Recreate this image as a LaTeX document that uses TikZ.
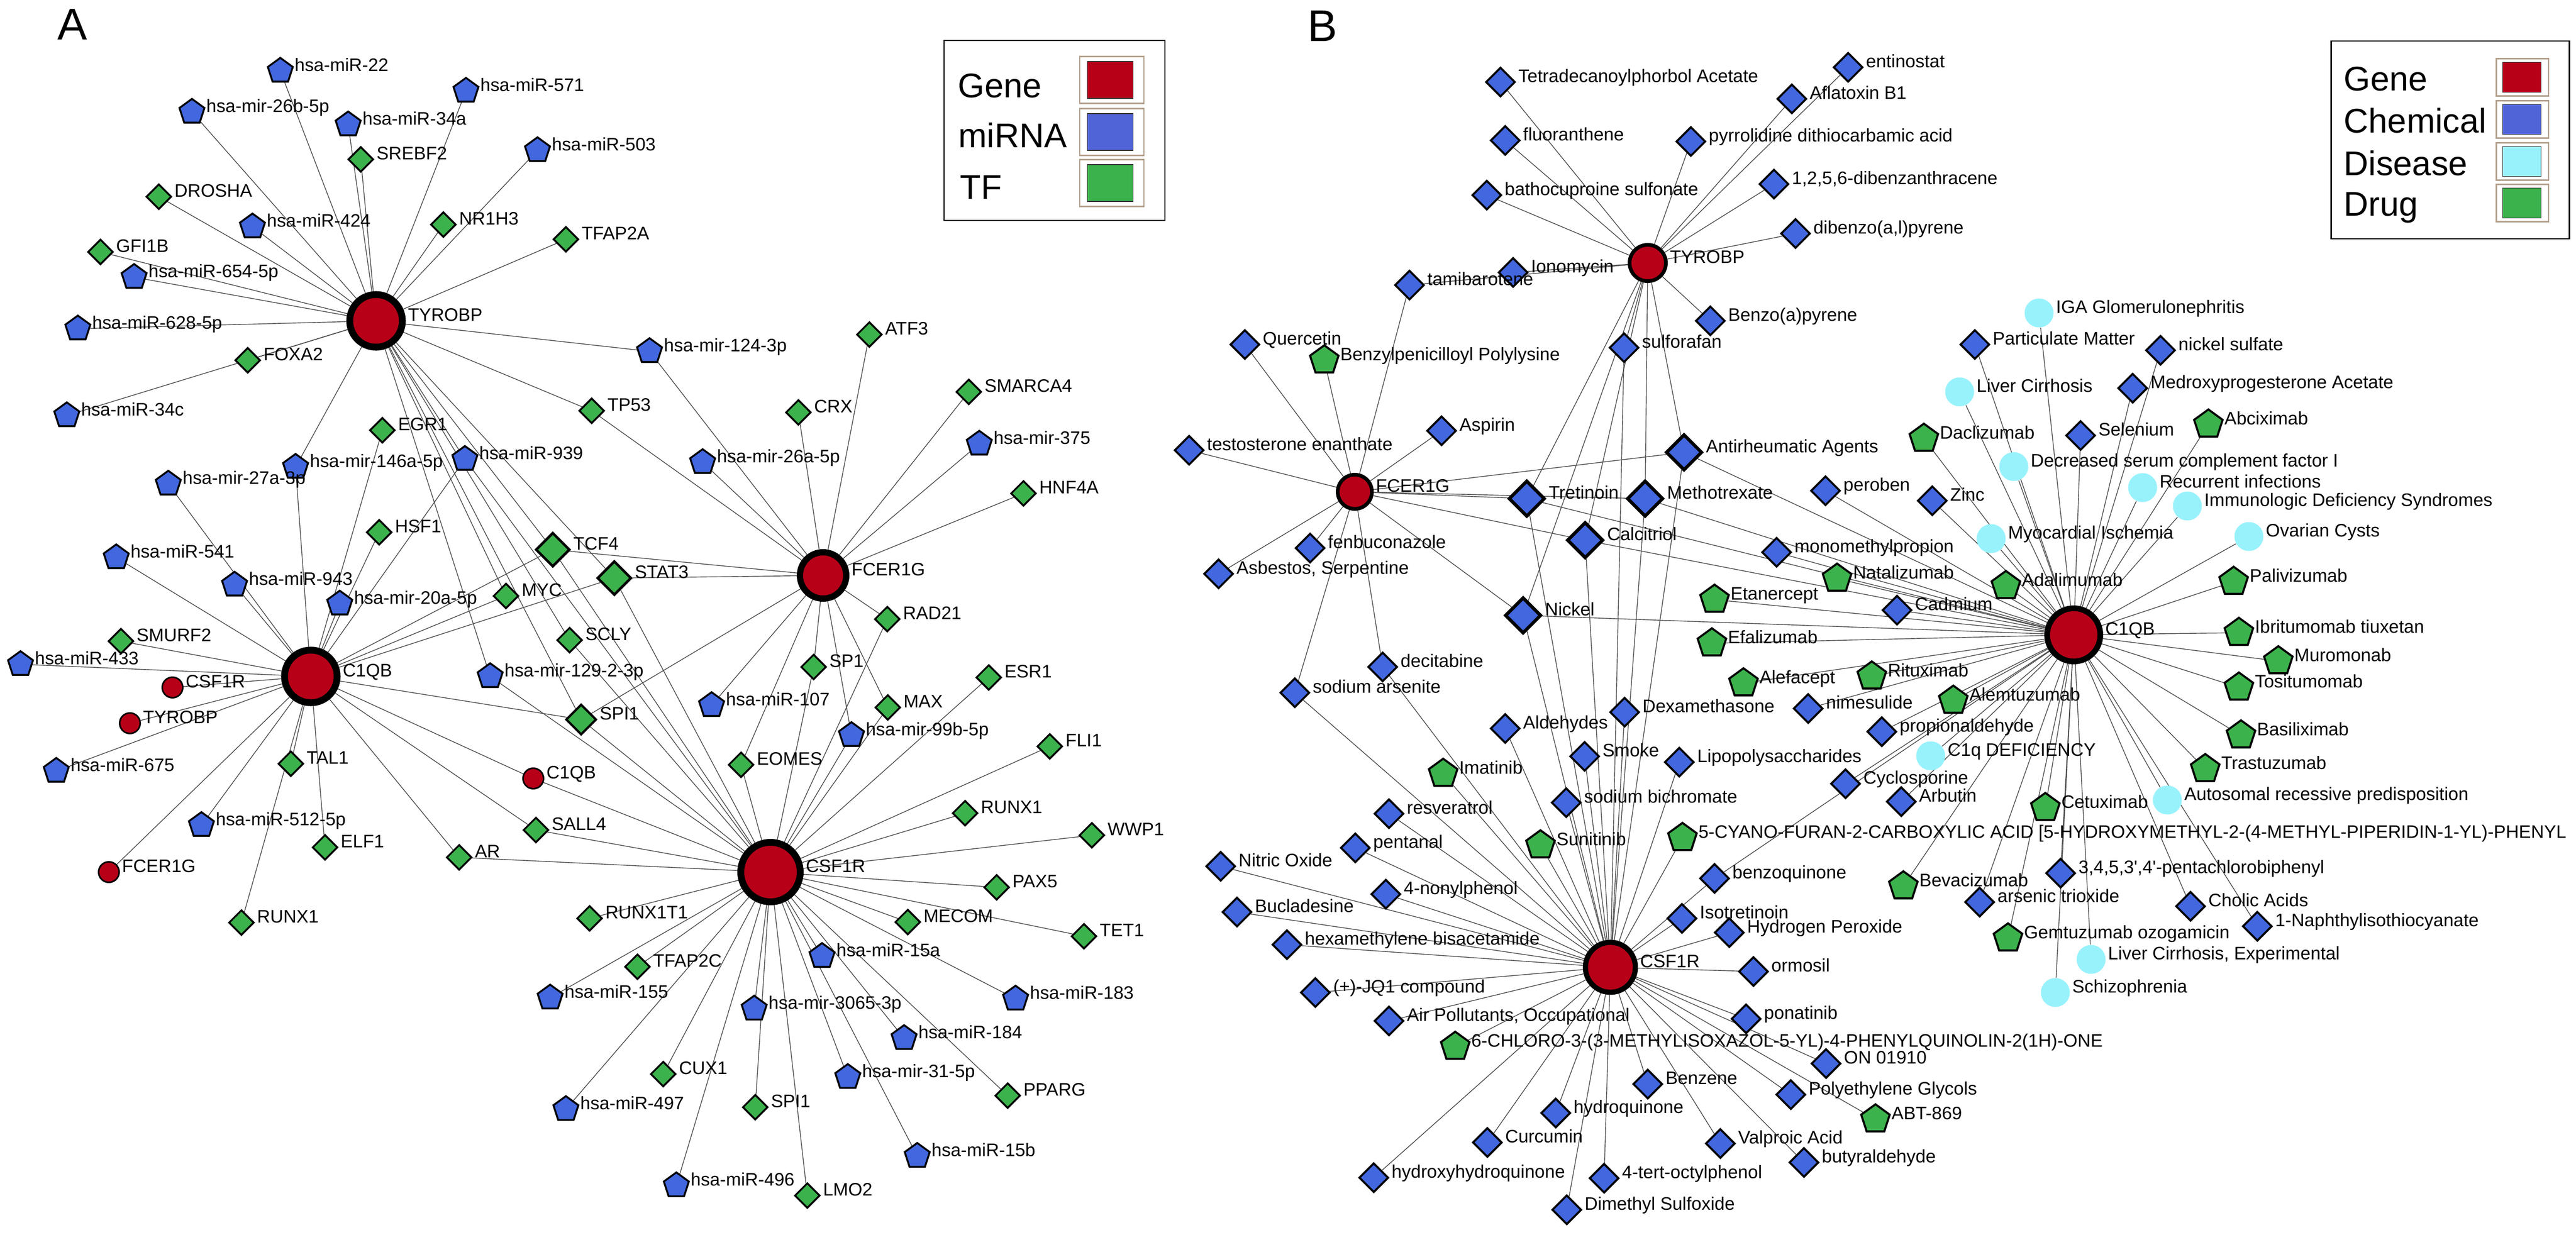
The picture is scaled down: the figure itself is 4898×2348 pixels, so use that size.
\documentclass[tikz,border=0pt]{standalone}
\usepackage{fontspec}
\setmainfont{Liberation Sans}
\usepackage{tikz}
\usetikzlibrary{shapes.geometric, backgrounds}

\definecolor{genered}{RGB}{183,0,24}
\definecolor{chemblue}{RGB}{66,103,222}
\definecolor{tfgreen}{RGB}{60,178,76}
\definecolor{discyan}{RGB}{152,242,252}
\definecolor{legblue}{RGB}{80,100,215}
\definecolor{legframe}{RGB}{180,160,140}
\newcommand{\lblfont}{\fontsize{9.8pt}{11pt}\selectfont}
\newcommand{\legfont}{\fontsize{18.5pt}{22pt}\selectfont}
\newcommand{\panelfont}{\fontsize{24pt}{28pt}\selectfont}

\begin{document}
\begin{tikzpicture}[x=0.01cm, y=-0.01cm,
    every label/.style={font=\lblfont, inner sep=1pt, text height=0pt, text depth=0pt},
    link/.style={draw=black!70, line width=0.4pt},
    hubA/.style={circle, draw, fill=genered, line width=3.7pt, inner sep=0pt, minimum size=1cm},
    hubAf/.style={hubA, line width=3.4pt, minimum size=0.88cm},
    hubAc/.style={hubA, minimum size=1.13cm},
    geneS/.style={circle, draw, fill=genered, line width=0.85pt, inner sep=0pt, minimum size=0.39cm},
    mirA/.style={regular polygon, regular polygon sides=5, draw, fill=chemblue, line width=1pt, inner sep=0pt, minimum size=0.5cm},
    tfA/.style={diamond, draw, fill=tfgreen, line width=1pt, inner sep=0pt, minimum size=0.48cm},
    tfAmid/.style={tfA, line width=1.2pt, minimum size=0.58cm},
    tfAbig/.style={tfA, line width=1.4pt, minimum size=0.65cm},
    hubB/.style={circle, draw, fill=genered, line width=2pt, inner sep=0pt, minimum size=0.69cm},
    chem/.style={diamond, draw, fill=chemblue, line width=1.1pt, inner sep=0pt, minimum size=0.56cm},
    chembig/.style={chem, line width=1.8pt, minimum size=0.69cm},
    drug/.style={regular polygon, regular polygon sides=5, draw, fill=tfgreen, line width=1.1pt, inner sep=0pt, minimum size=0.57cm},
    dis/.style={circle, fill=discyan, inner sep=0pt, minimum size=0.55cm},
    legbox/.style={draw, line width=0.7pt, inner sep=0pt},
    swframe/.style={draw=legframe, line width=0.6pt, inner sep=0pt},
    swatch/.style={draw=black!80, line width=0.5pt, inner sep=0pt},
    legtxt/.style={anchor=base west, font=\legfont, inner sep=0pt}]

\useasboundingbox (0,0) rectangle (4898,2348);

% ---------------- panel A ----------------
\node[anchor=base west, font=\panelfont, inner sep=0pt] (labA) at (109,75) {A};

% genes
\node[hubA, label=right:TYROBP] (tyA) at (715,610) {};
\node[hubA, label=right:C1QB] (cqA) at (591,1286) {};
\node[hubAf, label=right:FCER1G] (fcA) at (1565,1094) {};
\node[hubAc, label=right:CSF1R] (csA) at (1465,1658) {};
\node[geneS, label=right:CSF1R] (csS) at (328,1307) {};
\node[geneS, label=right:TYROBP] (tyS) at (247,1375) {};
\node[geneS, label=right:FCER1G] (fcS) at (207,1658) {};
\node[geneS, label=right:C1QB] (cqS) at (1014,1480) {};

% miRNAs
\node[mirA, label=right:hsa-miR-22] (m22) at (533,135) {};
\node[mirA, label=right:hsa-mir-26b-5p] (m26b) at (365,213) {};
\node[mirA, label=right:hsa-miR-34a] (m34a) at (662,237) {};
\node[mirA, label=right:hsa-miR-571] (m571) at (886,173) {};
\node[mirA, label=right:hsa-miR-503] (m503) at (1022,286) {};
\node[mirA, label=right:hsa-miR-424] (m424) at (480,431) {};
\node[mirA, label=right:hsa-miR-654-5p] (m654) at (255,527) {};
\node[mirA, label=right:hsa-miR-628-5p] (m628) at (148,625) {};
\node[mirA, label=right:hsa-miR-34c] (m34c) at (127,790) {};
\node[mirA, label=right:hsa-mir-124-3p] (m124) at (1235,668) {};
\node[mirA, label=right:hsa-mir-146a-5p] (m146a) at (562,888) {};
\node[mirA, label=right:hsa-mir-27a-3p] (m27a) at (320,920) {};
\node[mirA, label=right:hsa-miR-939] (m939) at (884,873) {};
\node[mirA, label=right:hsa-mir-26a-5p] (m26a) at (1336,879) {};
\node[mirA, label=right:hsa-mir-375] (m375) at (1862,844) {};
\node[mirA, label=right:hsa-miR-541] (m541) at (221,1060) {};
\node[mirA, label=right:hsa-miR-943] (m943) at (446,1112) {};
\node[mirA, label=right:hsa-mir-20a-5p] (m20a) at (646,1148) {};
\node[mirA, label=right:hsa-miR-433] (m433) at (39,1263) {};
\node[mirA, label=right:hsa-mir-129-2-3p] (m129) at (932,1286) {};
\node[mirA, label=right:hsa-miR-107] (m107) at (1353,1341) {};
\node[mirA, label=right:hsa-mir-99b-5p] (m99b) at (1619,1398) {};
\node[mirA, label=right:hsa-miR-675] (m675) at (107,1466) {};
\node[mirA, label=right:hsa-miR-512-5p] (m512) at (383,1569) {};
\node[mirA, label=right:hsa-miR-15a] (m15a) at (1563,1818) {};
\node[mirA, label=right:hsa-miR-155] (m155) at (1046,1897) {};
\node[mirA, label=right:hsa-mir-3065-3p] (m3065) at (1434,1918) {};
\node[mirA, label=right:hsa-miR-183] (m183) at (1931,1899) {};
\node[mirA, label=right:hsa-miR-184] (m184) at (1719,1974) {};
\node[mirA, label=right:hsa-mir-31-5p] (m31) at (1612,2048) {};
\node[mirA, label=right:hsa-miR-497] (m497) at (1076,2109) {};
\node[mirA, label=right:hsa-miR-15b] (m15b) at (1744,2198) {};
\node[mirA, label=right:hsa-miR-496] (m496) at (1286,2254) {};

% transcription factors
\node[tfA, label=right:SREBF2] (srebf2) at (686,303) {};
\node[tfA, label=right:DROSHA] (drosha) at (302,374) {};
\node[tfA, label=right:NR1H3] (nr1h3) at (843,427) {};
\node[tfA, label=right:TFAP2A] (tfap2a) at (1076,455) {};
\node[tfA, label=right:GFI1B] (gfi1b) at (191,479) {};
\node[tfA, label=right:FOXA2] (foxa2) at (471,685) {};
\node[tfA, label=right:ATF3] (atf3) at (1653,636) {};
\node[tfA, label=right:SMARCA4] (smarca4) at (1842,745) {};
\node[tfA, label=right:TP53] (tp53) at (1125,781) {};
\node[tfA, label=right:CRX] (crx) at (1518,784) {};
\node[tfA, label=right:EGR1] (egr1) at (727,818) {};
\node[tfA, label=right:HNF4A] (hnf4a) at (1946,938) {};
\node[tfA, label=right:HSF1] (hsf1) at (721,1012) {};
\node[tfAbig, label=right:TCF4] (tcf4) at (1051,1045) {};
\node[tfAbig, label=right:STAT3] (stat3) at (1168,1099) {};
\node[tfA, label=right:MYC] (myc) at (962,1133) {};
\node[tfA, label=right:RAD21] (rad21) at (1687,1177) {};
\node[tfA, label=right:SCLY] (scly) at (1083,1217) {};
\node[tfA, label=right:SMURF2] (smurf2) at (230,1219) {};
\node[tfA, label=right:SP1] (sp1) at (1547,1268) {};
\node[tfA, label=right:ESR1] (esr1) at (1880,1288) {};
\node[tfA, label=right:MAX] (max) at (1688,1345) {};
\node[tfAmid, label=right:SPI1] (spi1a) at (1105,1368) {};
\node[tfA, label=right:FLI1] (fli1) at (1996,1419) {};
\node[tfA, label=right:TAL1] (tal1) at (553,1452) {};
\node[tfA, label=right:EOMES] (eomes) at (1409,1454) {};
\node[tfA, label=right:RUNX1] (runx1b) at (1835,1546) {};
\node[tfA, label=right:SALL4] (sall4) at (1019,1578) {};
\node[tfA, label=right:WWP1] (wwp1) at (2076,1588) {};
\node[tfA, label=right:ELF1] (elf1) at (618,1611) {};
\node[tfA, label=right:AR] (ar) at (873,1630) {};
\node[tfA, label=right:PAX5] (pax5) at (1895,1687) {};
\node[tfA, label=right:RUNX1T1] (runx1t1) at (1121,1746) {};
\node[tfA, label=right:RUNX1] (runx1a) at (459,1754) {};
\node[tfA, label=right:MECOM] (mecom) at (1726,1753) {};
\node[tfA, label=right:TET1] (tet1) at (2061,1780) {};
\node[tfA, label=right:TFAP2C] (tfap2c) at (1212,1838) {};
\node[tfA, label=right:CUX1] (cux1) at (1261,2042) {};
\node[tfA, label=right:PPARG] (pparg) at (1916,2083) {};
\node[tfA, label=right:SPI1] (spi1b) at (1436,2105) {};
\node[tfA, label=right:LMO2] (lmo2) at (1535,2273) {};

% legend A
\node[legbox, minimum width=4.2cm, minimum height=3.42cm] (legA) at (2005,248) {};
\node[swframe, minimum width=1.22cm, minimum height=0.89cm] (frA1) at (2114,152) {};
\node[swframe, minimum width=1.22cm, minimum height=0.89cm] (frA2) at (2114,251) {};
\node[swframe, minimum width=1.22cm, minimum height=0.89cm] (frA3) at (2114,348) {};
\node[swatch, fill=genered, minimum width=0.87cm, minimum height=0.7cm] (swA1) at (2111,152) {};
\node[swatch, fill=legblue, minimum width=0.87cm, minimum height=0.7cm] (swA2) at (2111,251) {};
\node[swatch, fill=tfgreen, minimum width=0.87cm, minimum height=0.7cm] (swA3) at (2111,348) {};
\node[legtxt] (txA1) at (1821,185) {Gene};
\node[legtxt] (txA2) at (1822,280) {miRNA};
\node[legtxt] (txA3) at (1825,378) {TF};

% ---------------- panel B ----------------
\node[anchor=base west, font=\panelfont, inner sep=0pt] (labB) at (2486,78) {B};

% genes
\node[hubB, label=right:TYROBP] (tyB) at (3133,500) {};
\node[hubB, minimum size=0.65cm, label=right:FCER1G] (fcB) at (2576,935) {};
\node[hubB, line width=3.1pt, minimum size=1.01cm, label=right:C1QB] (cqB) at (3943,1207) {};
\node[hubB, line width=2.8pt, minimum size=0.95cm, label=right:CSF1R] (csB) at (3062,1839) {};

% chemicals
\node[chem, label=right:Tetradecanoylphorbol Acetate] (tetra) at (2853,156) {};
\node[chem, label=right:entinostat] (entino) at (3514,128) {};
\node[chem, label=right:Aflatoxin B1] (afla) at (3407,188) {};
\node[chem, label=right:fluoranthene] (fluor) at (2862,267) {};
\node[chem, label=right:pyrrolidine dithiocarbamic acid] (pyrro) at (3215,269) {};
\node[chem, label={right:{1,2,5,6-dibenzanthracene}}] (dibanth) at (3373,350) {};
\node[chem, label=right:bathocuproine sulfonate] (batho) at (2827,371) {};
\node[chem, label={right:{dibenzo(a,l)pyrene}}] (dibpyr) at (3414,444) {};
\node[chem, label=right:Ionomycin] (iono) at (2877,518) {};
\node[chem, label=right:tamibarotene] (tamiba) at (2680,542) {};
\node[chem, label=right:Benzo(a)pyrene] (bapyr) at (3252,610) {};
\node[chem, label=right:sulforafan] (sulfo) at (3088,661) {};
\node[chem, label=right:Quercetin] (querc) at (2367,655) {};
\node[chem, label=right:Particulate Matter] (partic) at (3755,655) {};
\node[chem, label=right:nickel sulfate] (nisulf) at (4108,666) {};
\node[chem, label=right:Medroxyprogesterone Acetate] (medroxy) at (4055,738) {};
\node[chem, label=right:Aspirin] (aspirin) at (2741,819) {};
\node[chem, label=right:Selenium] (selen) at (3956,828) {};
\node[chem, label=right:testosterone enanthate] (testo) at (2261,856) {};
\node[chembig, label=right:Antirheumatic Agents] (antirh) at (3202,860) {};
\node[chem, label=right:peroben] (perob) at (3471,933) {};
\node[chembig, label=right:Tretinoin] (tretin) at (2903,948) {};
\node[chembig, label=right:Methotrexate] (methot) at (3128,948) {};
\node[chem, label=right:Zinc] (zinc) at (3674,952) {};
\node[chembig, label=right:Calcitriol] (calcit) at (3014,1027) {};
\node[chem, label=right:fenbuconazole] (fenbu) at (2491,1042) {};
\node[chem, label=right:monomethylpropion] (monomet) at (3378,1050) {};
\node[chem, label={right:{Asbestos, Serpentine}}] (asbest) at (2317,1091) {};
\node[chem, label=right:Cadmium] (cadm) at (3607,1160) {};
\node[chembig, label=right:Nickel] (nickel) at (2896,1170) {};
\node[chem, label=right:decitabine] (decit) at (2629,1268) {};
\node[chem, label=right:sodium arsenite] (sodars) at (2462,1317) {};
\node[chem, label=right:nimesulide] (nimes) at (3438,1347) {};
\node[chem, label=right:Dexamethasone] (dexam) at (3089,1354) {};
\node[chem, label=right:Aldehydes] (aldeh) at (2862,1385) {};
\node[chem, label=right:propionaldehyde] (propion) at (3578,1391) {};
\node[chem, label=right:Smoke] (smoke) at (3013,1438) {};
\node[chem, label=right:Lipopolysaccharides] (lipop) at (3193,1449) {};
\node[chem, label=right:Cyclosporine] (cyclo) at (3509,1490) {};
\node[chem, label=right:Arbutin] (arbut) at (3615,1524) {};
\node[chem, label=right:sodium bichromate] (sodbich) at (2978,1526) {};
\node[chem, label=right:resveratrol] (resver) at (2641,1547) {};
\node[chem, label=right:pentanal] (pentan) at (2577,1612) {};
\node[chem, label=right:Nitric Oxide] (nitric) at (2321,1647) {};
\node[chem, label={right:{3,4,5,3\textquotesingle,4\textquotesingle-pentachlorobiphenyl}}] (pcb) at (3918,1660) {};
\node[chem, label=right:benzoquinone] (benzoq) at (3260,1670) {};
\node[chem, label=right:4-nonylphenol] (nonyl) at (2635,1700) {};
\node[chem, label=right:arsenic trioxide] (arstri) at (3764,1715) {};
\node[chem, label=right:Cholic Acids] (cholic) at (4165,1723) {};
\node[chem, label=right:Bucladesine] (buclad) at (2352,1734) {};
\node[chem, label=right:Isotretinoin] (isotret) at (3198,1746) {};
\node[chem, label=right:1-Naphthylisothiocyanate] (naphth) at (4292,1761) {};
\node[chem, label=right:Hydrogen Peroxide] (hperox) at (3288,1773) {};
\node[chem, label=right:hexamethylene bisacetamide] (hexam) at (2447,1796) {};
\node[chem, label=right:ormosil] (ormos) at (3334,1847) {};
\node[chem, label={right:{(+)-JQ1 compound}}] (jq1) at (2501,1887) {};
\node[chem, label=right:ponatinib] (ponat) at (3320,1937) {};
\node[chem, label={right:{Air Pollutants, Occupational}}] (airpol) at (2641,1941) {};
\node[chem, label=right:ON 01910] (on019) at (3472,2022) {};
\node[chem, label=right:Benzene] (benzene) at (3133,2061) {};
\node[chem, label=right:Polyethylene Glycols] (peg) at (3405,2081) {};
\node[chem, label=right:hydroquinone] (hydroq) at (2958,2116) {};
\node[chem, label=right:Curcumin] (curcum) at (2828,2172) {};
\node[chem, label=right:Valproic Acid] (valpro) at (3271,2174) {};
\node[chem, label=right:butyraldehyde] (butyr) at (3430,2210) {};
\node[chem, label=right:hydroxyhydroquinone] (hydroxy) at (2612,2239) {};
\node[chem, label=right:4-tert-octylphenol] (octyl) at (3050,2240) {};
\node[chem, label=right:Dimethyl Sulfoxide] (dmso) at (2979,2300) {};

% drugs
\node[drug, label=right:Benzylpenicilloyl Polylysine] (benzyl) at (2518,685) {};
\node[drug, label=right:Daclizumab] (dacliz) at (3658,834) {};
\node[drug, label=right:Abciximab] (abcix) at (4199,807) {};
\node[drug, label=right:Natalizumab] (natali) at (3493,1100) {};
\node[drug, label=right:Adalimumab] (adalim) at (3814,1114) {};
\node[drug, label=right:Etanercept] (etaner) at (3260,1140) {};
\node[drug, label=right:Palivizumab] (paliv) at (4247,1106) {};
\node[drug, label=right:Ibritumomab tiuxetan] (ibrit) at (4257,1203) {};
\node[drug, label=right:Efalizumab] (efali) at (3255,1223) {};
\node[drug, label=right:Muromonab] (murom) at (4332,1257) {};
\node[drug, label=right:Rituximab] (ritux) at (3559,1286) {};
\node[drug, label=right:Alefacept] (alef) at (3315,1299) {};
\node[drug, label=right:Tositumomab] (tositu) at (4257,1307) {};
\node[drug, label=right:Alemtuzumab] (alemtu) at (3714,1332) {};
\node[drug, label=right:Basiliximab] (basil) at (4261,1398) {};
\node[drug, label=right:Trastuzumab] (trastu) at (4193,1462) {};
\node[drug, label=right:Imatinib] (imatin) at (2744,1471) {};
\node[drug, label=right:Cetuximab] (cetux) at (3889,1536) {};
\node[drug, label={right:{5-CYANO-FURAN-2-CARBOXYLIC ACID [5-HYDROXYMETHYL-2-(4-METHYL-PIPERIDIN-1-YL)-PHENYL}}] (cyano) at (3199,1593) {};
\node[drug, label=right:Sunitinib] (sunit) at (2929,1607) {};
\node[drug, label=right:Bevacizumab] (bevac) at (3619,1685) {};
\node[drug, label=right:Gemtuzumab ozogamicin] (gemtu) at (3818,1784) {};
\node[drug, label={right:{6-CHLORO-3-(3-METHYLISOXAZOL-5-YL)-4-PHENYLQUINOLIN-2(1H)-ONE}}] (chloro) at (2767,1990) {};
\node[drug, label=right:ABT-869] (abt) at (3566,2128) {};

% diseases
\node[dis, label=right:IGA Glomerulonephritis] (iga) at (3877,595) {};
\node[dis, label=right:Liver Cirrhosis] (livcir) at (3726,745) {};
\node[dis, label=right:Decreased serum complement factor I] (decreas) at (3829,887) {};
\node[dis, label=right:Recurrent infections] (recurr) at (4074,927) {};
\node[dis, label=right:Immunologic Deficiency Syndromes] (immuno) at (4159,962) {};
\node[dis, label=right:Ovarian Cysts] (ovar) at (4276,1020) {};
\node[dis, label=right:Myocardial Ischemia] (myocard) at (3786,1024) {};
\node[dis, label=right:C1q DEFICIENCY] (c1qdef) at (3671,1437) {};
\node[dis, label=right:Autosomal recessive predisposition] (autos) at (4121,1521) {};
\node[dis, label={right:{Liver Cirrhosis, Experimental}}] (livexp) at (3976,1824) {};
\node[dis, label=right:Schizophrenia] (schizo) at (3908,1887) {};

% legend B
\node[legbox, minimum width=4.53cm, minimum height=3.76cm] (legB) at (4659,266) {};
\node[swframe, minimum width=0.99cm, minimum height=0.71cm] (frB1) at (4796,147) {};
\node[swframe, minimum width=0.99cm, minimum height=0.71cm] (frB2) at (4796,227) {};
\node[swframe, minimum width=0.99cm, minimum height=0.71cm] (frB3) at (4796,307) {};
\node[swframe, minimum width=0.99cm, minimum height=0.71cm] (frB4) at (4796,386) {};
\node[swatch, fill=genered, minimum width=0.73cm, minimum height=0.57cm] (swB1) at (4795,147) {};
\node[swatch, fill=legblue, minimum width=0.73cm, minimum height=0.57cm] (swB2) at (4795,227) {};
\node[swatch, fill=discyan, minimum width=0.73cm, minimum height=0.57cm] (swB3) at (4795,307) {};
\node[swatch, fill=tfgreen, minimum width=0.73cm, minimum height=0.57cm] (swB4) at (4795,386) {};
\node[legtxt] (txB1) at (4456,172) {Gene};
\node[legtxt] (txB2) at (4456,252) {Chemical};
\node[legtxt] (txB3) at (4456,333) {Disease};
\node[legtxt] (txB4) at (4456,410) {Drug};

% ---------------- edges ----------------
\begin{scope}[on background layer]
\fill[white] (0,0) rectangle (4898,2348);

% panel A
\draw[link] (tyA) edge (m22) edge (m26b) edge (m34a) edge (srebf2) edge (m571) edge (m503)
    edge (nr1h3) edge (tfap2a) edge (drosha) edge (m424) edge (gfi1b) edge (m654) edge (m628)
    edge (foxa2) edge (m34c) edge (m124) edge (tp53) edge (m146a) edge (m939) edge (tcf4)
    edge (stat3) edge (scly) edge (spi1a) edge (m129) edge (myc);
\draw[link] (cqA) edge (m27a) edge (m541) edge (m943) edge (m146a) edge (egr1) edge (hsf1)
    edge (m20a) edge (m939) edge (smurf2) edge (m433) edge (csS) edge (tyS) edge (m675)
    edge (fcS) edge (m512) edge (tal1) edge (runx1a) edge (elf1) edge (ar) edge (sall4)
    edge (cqS) edge (spi1a) edge (tcf4) edge (stat3) edge (myc);
\draw[link] (fcA) edge (m124) edge (tp53) edge (m26a) edge (crx) edge (atf3) edge (smarca4)
    edge (m375) edge (hnf4a) edge (rad21) edge (tcf4) edge (stat3) edge (sp1) edge (max)
    edge (m107) edge (eomes) edge (m99b) edge (spi1a);
\draw[link] (csA) edge (tcf4) edge (stat3) edge (spi1a) edge (scly) edge (m129) edge (cqS)
    edge (sall4) edge (ar) edge (m939) edge (eomes) edge (sp1) edge (m99b) edge (max)
    edge (rad21) edge (esr1) edge (fli1) edge (runx1b) edge (wwp1) edge (pax5) edge (mecom)
    edge (tet1) edge (m15a) edge (m183) edge (m3065) edge (m184) edge (m31) edge (pparg)
    edge (m15b) edge (lmo2) edge (spi1b) edge (m496) edge (cux1) edge (m497) edge (m155)
    edge (tfap2c) edge (runx1t1);

% panel B
\draw[link] (tyB) edge (tetra) edge (fluor) edge (batho) edge (pyrro) edge (entino) edge (afla)
    edge (dibanth) edge (dibpyr) edge (bapyr) edge (iono) edge (tamiba) edge (sulfo)
    edge (antirh) edge (methot) edge (calcit) edge (tretin) edge (nickel);
\draw[link] (fcB) edge (tamiba) edge (querc) edge (benzyl) edge (aspirin) edge (testo)
    edge (fenbu) edge (asbest) edge (sodars) edge (decit) edge (antirh) edge (tretin)
    edge (methot) edge (calcit) edge (nickel);
\draw[link] (cqB) edge (cadm) edge (efali) edge (etaner) edge (natali) edge (monomet)
    edge (perob) edge (zinc) edge (dacliz) edge (livcir) edge (partic) edge (iga) edge (myocard)
    edge (decreas) edge (adalim) edge (selen) edge (medroxy) edge (nisulf) edge (abcix)
    edge (recurr) edge (immuno) edge (ovar) edge (paliv) edge (ibrit) edge (murom)
    edge (tositu) edge (basil) edge (trastu) edge (autos) edge (naphth) edge (cholic)
    edge (livexp) edge (schizo) edge (pcb) edge (gemtu) edge (arstri) edge (cetux)
    edge (bevac) edge (c1qdef) edge (arbut) edge (cyclo) edge (propion) edge (nimes)
    edge (alemtu) edge (ritux) edge (alef) edge (nickel) edge (methot) edge (antirh)
    edge (calcit) edge (tretin) edge (benzoq);
\draw[link] (csB) edge (nickel) edge (decit) edge (sodars) edge (aldeh) edge (dexam)
    edge (smoke) edge (lipop) edge (imatin) edge (sodbich) edge (resver) edge (sunit)
    edge (cyano) edge (pentan) edge (nitric) edge (buclad) edge (hexam) edge (benzoq)
    edge (nonyl) edge (isotret) edge (hperox) edge (jq1) edge (airpol) edge (chloro)
    edge (benzene) edge (hydroq) edge (curcum) edge (hydroxy) edge (octyl) edge (dmso)
    edge (valpro) edge (butyr) edge (abt) edge (peg) edge (on019) edge (ponat) edge (ormos)
    edge (calcit) edge (methot) edge (tretin) edge (antirh) edge (sulfo);
\end{scope}

\end{tikzpicture}
\end{document}
